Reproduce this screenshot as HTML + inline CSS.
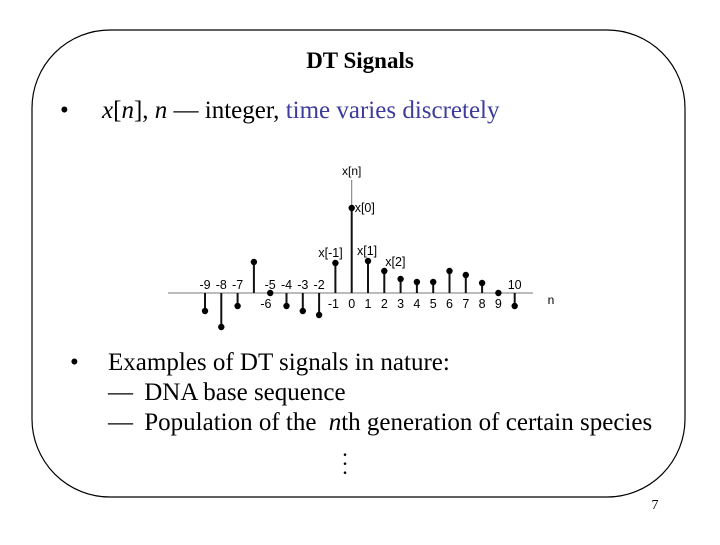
<!DOCTYPE html>
<html><head><meta charset="utf-8"><style>
body{margin:0;width:720px;height:540px;background:#fff;overflow:hidden;font-family:"Liberation Serif",serif;}
</style></head><body>
<svg width="720" height="540" viewBox="0 0 720 540" xmlns="http://www.w3.org/2000/svg">
<rect x="32" y="30" width="653" height="467" rx="78" ry="78" fill="none" stroke="#000" stroke-width="1.2"/>
<text x="360" y="68" text-anchor="middle" font-family="Liberation Serif" font-weight="bold" font-size="23">DT Signals</text>
<text x="60" y="118" font-size="25">•</text>
<text x="102" y="118" font-size="25"><tspan font-style="italic">x</tspan>[<tspan font-style="italic">n</tspan>], <tspan font-style="italic">n</tspan> — integer, <tspan fill="#3c3c9c">time varies discretely</tspan></text>
<g id="chart"></g>
<text x="70" y="370" font-size="25">•</text>
<text x="108" y="370" font-size="25">Examples of DT signals in nature:</text>
<text x="108" y="400" font-size="25">— <tspan dx="5">DNA base sequence</tspan></text>
<text x="108" y="430" font-size="25">— <tspan dx="5">Population of the </tspan><tspan dx="6" font-style="italic">n</tspan>th generation of certain species</text>
<text x="345" y="456" font-size="22" text-anchor="middle">.</text>
<text x="345" y="465" font-size="22" text-anchor="middle">.</text>
<text x="345" y="474" font-size="22" text-anchor="middle">.</text>
<text x="655" y="509" font-size="14" text-anchor="middle">7</text>
</svg>
<script>
const nValues = [-9,-8,-7,-6,-5,-4,-3,-2,-1,0,1,2,3,4,5,6,7,8,9,10];
const xValues = [-18,-34,-13,31,0,-13,-18,-22,30,85,32,22,14,11,11,22,18,10,0,-13];
const tickLabels = ["-9","-8","-7","-6","-5","-4","-3","-2","-1","0","1","2","3","4","5","6","7","8","9","10"];
const labelAbove = [true,true,true,false,true,true,true,true,false,false,false,false,false,false,false,false,false,false,false,true];
const annotations = {"-1":"x[-1]","0":"x[0]","1":"x[1]","2":"x[2]"};
const NS="http://www.w3.org/2000/svg";
const g=document.getElementById('chart');
const x0=351.7, dx=16.3, y0=293;
const sx=n=>x0+n*dx;
const sy=v=>y0-v;
function mk(t,a){const e=document.createElementNS(NS,t);for(const k in a)e.setAttribute(k,a[k]);g.appendChild(e);return e;}
let e=mk('line',{x1:168,y1:y0,x2:533,y2:y0,stroke:'#777','stroke-width':1});


e=mk('line',{x1:x0,y1:180,x2:x0,y2:y0,stroke:'#777','stroke-width':1});


e=mk('text',{x:x0,y:175,'text-anchor':'middle','font-family':'Liberation Sans','font-size':12});
e.textContent='x[n]';


e=mk('text',{x:551,y:304,'text-anchor':'middle','font-family':'Liberation Sans','font-size':12});
e.textContent='n';


nValues.forEach((n,i)=>{
  const v=xValues[i], x=sx(n);
  let s=mk('line',{x1:x,y1:y0,x2:x,y2:sy(v),stroke:'#111','stroke-width':2});
  
  
  let c=mk('circle',{cx:x,cy:sy(v),r:3.2,fill:'#000'});
  
  
  let tx=x, ty=labelAbove[i]?289:308;
  if(n===-6) tx=x+12;
  if(n===-1) tx=x-2;
  let t=mk('text',{x:tx,y:ty,'text-anchor':'middle','font-family':'Liberation Sans','font-size':12.5});
  t.textContent=tickLabels[i];
  
  
  if(annotations[n]!==undefined){
    let ax=n===0?x+3:(n===-1?x-17:(n===1?x-11:x+1));
    let ay=n===0?sy(v)+4:(n===2?sy(v)-5:sy(v)-6);
    let a=mk('text',{x:ax,y:ay,'font-family':'Liberation Sans','font-size':12.5});
    a.textContent=annotations[n];
    
    
  }
});
</script>
</body></html>
